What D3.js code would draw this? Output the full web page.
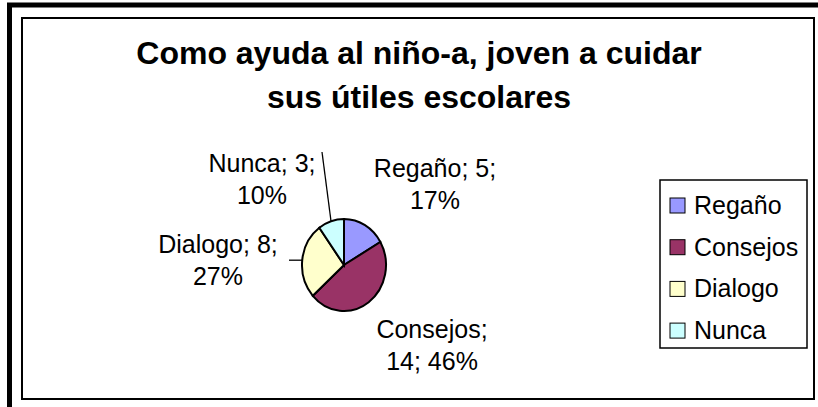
<!DOCTYPE html>
<html>
<head>
  <meta charset="utf-8">
  <title>Como ayuda al niño-a</title>
  <script src="https://d3js.org/d3.v7.min.js"></script>
  <style>
    body { margin: 0; background: #fff; font-family: Arial, "Liberation Sans", sans-serif; }
    .label { font-size: 25px; fill: #000; }
  </style>
</head>
<body>
  <svg width="818" height="407"></svg>
  <script>
    const categories = ["Regaño", "Consejos", "Dialogo", "Nunca"];
    const values = [5, 14, 8, 3];
    const percents = ["17%", "46%", "27%", "10%"];
    const colors = ["#9999FF", "#993366", "#FFFFCC", "#CCFFFF"];
    const titleLines = ["Como ayuda al niño-a, joven a cuidar", "sus útiles escolares"];

    const data = categories.map((c, i) => ({ cat: c, value: values[i], pct: percents[i], color: colors[i] }));

    const svg = d3.select("svg");

    // frames
    svg.append("rect").attr("x", 9.5).attr("y", 5).attr("width", 900).attr("height", 500)
      .attr("fill", "none").attr("stroke", "#000").attr("stroke-width", 5);
    svg.append("rect").attr("x", 22).attr("y", 18).attr("width", 792).attr("height", 381)
      .attr("fill", "#fff").attr("stroke", "#000").attr("stroke-width", 2);

    // title
    svg.append("text")
      .attr("text-anchor", "middle")
      .style("font-size", "32px").style("font-weight", "bold")
      .selectAll("tspan").data(titleLines).join("tspan")
      .attr("x", 419).attr("y", (d, i) => 64 + i * 44)
      .text(d => d);

    // pie
    const cx = 344, cy = 265, r = 42, sy = 46 / 42;
    const pie = d3.pie().sort(null).value(d => d.value);
    const arc = d3.arc().innerRadius(0).outerRadius(r);
    const arcs = pie(data);

    const g = svg.append("g").attr("transform", `translate(${cx},${cy}) scale(1,${sy})`);
    g.selectAll("path").data(arcs).join("path")
      .attr("d", arc)
      .attr("fill", d => d.data.color)
      .attr("stroke", "#000")
      .attr("stroke-width", 2)
      .attr("vector-effect", "non-scaling-stroke");

    // labels (layout offsets from pie centre)
    const labelPos = {
      "Regaño": [91, -88],
      "Consejos": [88, 73],
      "Dialogo": [-126, -12],
      "Nunca": [-82, -93]
    };
    arcs.forEach(a => {
      const p = labelPos[a.data.cat];
      const lines = a.data.cat === "Consejos"
        ? [`${a.data.cat};`, `${a.data.value}; ${a.data.pct}`]
        : [`${a.data.cat}; ${a.data.value};`, a.data.pct];
      svg.append("text").attr("class", "label").attr("text-anchor", "middle")
        .selectAll("tspan").data(lines).join("tspan")
        .attr("x", cx + p[0]).attr("y", (d, i) => cy + p[1] + i * 32)
        .text(d => d);
    });

    // leader lines
    const outer = d3.arc().innerRadius(r).outerRadius(r);
    const np = outer.centroid(arcs[3]);
    svg.append("line")
      .attr("x1", 322).attr("y1", 152)
      .attr("x2", cx + np[0]).attr("y2", cy + np[1] * sy)
      .attr("stroke", "#000").attr("stroke-width", 1.3);
    const dp = outer.centroid(arcs[2]);
    svg.append("line")
      .attr("x1", 289).attr("y1", cy + dp[1] * sy)
      .attr("x2", cx + dp[0]).attr("y2", cy + dp[1] * sy)
      .attr("stroke", "#000").attr("stroke-width", 1.3);

    // legend
    svg.append("rect").attr("x", 660).attr("y", 180).attr("width", 147).attr("height", 168)
      .attr("fill", "#fff").attr("stroke", "#000").attr("stroke-width", 1.5);
    const leg = svg.append("g").selectAll("g").data(data).join("g")
      .attr("transform", (d, i) => `translate(670,${205 + i * 41.7})`);
    leg.append("rect").attr("x", 0).attr("y", -7).attr("width", 15).attr("height", 15)
      .attr("fill", d => d.color).attr("stroke", "#000").attr("stroke-width", 1);
    leg.append("text").attr("class", "label").attr("x", 24).attr("y", 9).text(d => d.cat);
  </script>
</body>
</html>
